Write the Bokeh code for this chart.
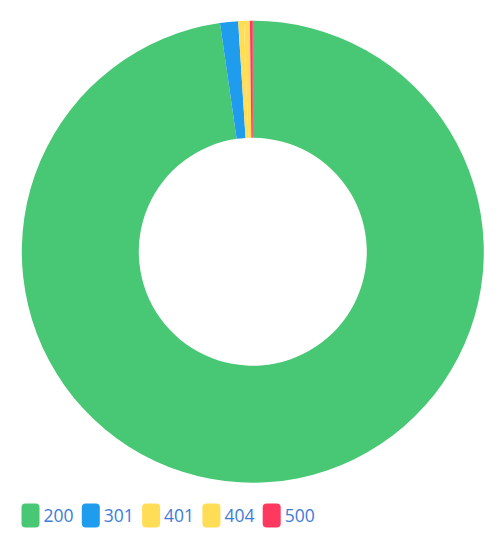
import numpy as np
from bokeh.plotting import figure
from bokeh.models import Range1d, ColumnDataSource
from bokeh.core.properties import value
from bokeh.embed import file_html
from bokeh.resources import INLINE

# data
codes = ["200", "301", "401", "404", "500"]
counts = [9775, 126, 40, 41, 20]
colors = ["#48c774", "#209cee", "#ffdd57", "#ffdd57", "#ff3860"]

W, H = 487, 537
p = figure(width=W, height=H, output_backend="svg", toolbar_location=None,
           x_range=Range1d(0, W), y_range=Range1d(0, H), min_border=0,
           outline_line_color=None, background_fill_color="white")
p.axis.visible = False
p.grid.visible = False

vals = np.array(counts, dtype=float)
frac = vals / vals.sum()
cum = np.concatenate([[0], np.cumsum(frac)])
start = np.pi / 2 - cum[:-1] * 2 * np.pi
end = np.pi / 2 - cum[1:] * 2 * np.pi

cx, cy = 252.3, H - 251.2
src = ColumnDataSource(dict(start=start, end=end, color=colors, code=codes))
p.annular_wedge(x=cx, y=cy, inner_radius=114, outer_radius=231,
                start_angle="start", end_angle="end", direction="clock",
                fill_color="color", line_color=None, source=src)

# legend
char_w = 9.1
box_w, box_h, gap, item_gap = 18, 24, 4, 11
xs, tx = [], []
x = 21
for c in codes:
    xs.append(x + box_w / 2)
    tx.append(x + box_w + gap)
    x += box_w + gap + len(c) * char_w + item_gap
ly = H - 515
lsrc = ColumnDataSource(dict(x=xs, tx=tx, y=[ly] * 5, color=colors, code=codes))
p.rect(x="x", y="y", width=box_w, height=box_h, fill_color="color",
       line_color=None, border_radius=4, source=lsrc)
p.text(x="tx", y="y", text="code", text_font=value("Open Sans"),
       text_font_size="17.5px", text_color="#3e7bd9", text_baseline="middle",
       text_align="left", source=lsrc)

open("out.html", "w").write(file_html(p, INLINE))
